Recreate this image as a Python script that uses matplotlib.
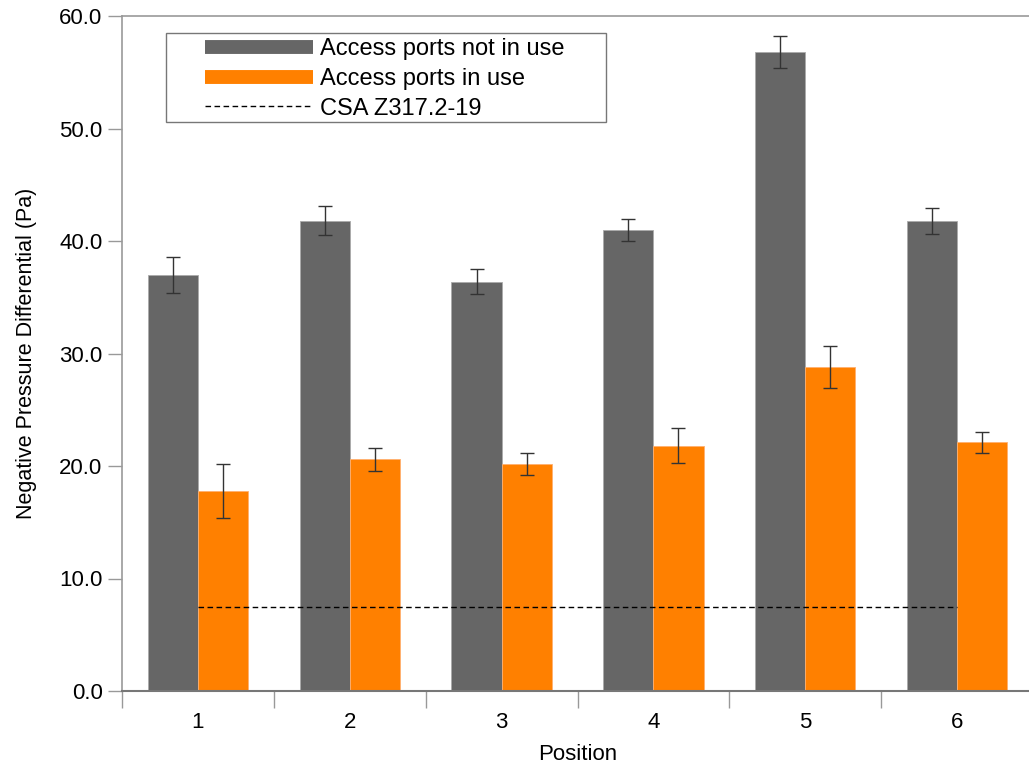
import numpy as np
import matplotlib.pyplot as plt
from matplotlib.lines import Line2D
from matplotlib.patches import Rectangle
from matplotlib.legend_handler import HandlerLine2D

plt.rcParams['font.family'] = ['Liberation Sans', 'DejaVu Sans']

positions = [1, 2, 3, 4, 5, 6]
not_in_use = [37.0, 41.8, 36.4, 41.0, 56.8, 41.8]
not_in_use_err = [1.6, 1.3, 1.1, 1.0, 1.45, 1.15]
in_use = [17.8, 20.6, 20.2, 21.8, 28.8, 22.1]
in_use_err = [2.4, 1.0, 1.0, 1.55, 1.85, 0.95]
csa_limit = 7.5

gray = '#666666'
orange = '#ff8000'
spine = '#999999'


class OffsetHandler(HandlerLine2D):
    # legend line starts a bit to the right of the handle box
    def create_artists(self, legend, orig_handle, xdescent, ydescent, width, height, fontsize, trans):
        arts = super().create_artists(legend, orig_handle, xdescent, ydescent, width, height, fontsize, trans)
        for a in arts:
            xd = np.asarray(a.get_xdata(), dtype=float)
            a.set_xdata(xd[0] + 0.24 * width + (xd - xd[0]) * 0.76)
        return arts


fig = plt.figure(figsize=(10.29, 7.69), dpi=100)
ax = fig.add_axes([122 / 1029, 78 / 769, 911 / 1029, 675 / 769])

x = np.array(positions)
w = 0.33
ekw = dict(ecolor='#333333', elinewidth=1, capsize=4.8, capthick=1)
ax.bar(x - w / 2, not_in_use, w, color=gray, edgecolor='#aaaaaa', linewidth=0.6,
       yerr=not_in_use_err, error_kw=ekw)
ax.bar(x + w / 2, in_use, w, color=orange, edgecolor='#ffb070', linewidth=0.6,
       yerr=in_use_err, error_kw=ekw)
ax.plot([positions[0], positions[-1]], [csa_limit, csa_limit], color='black',
        linestyle=(0, (4, 2.5)), linewidth=1)

ax.set_xlim(0.5, 6.5)
ax.set_ylim(0, 60)
ax.set_yticks(np.arange(0, 61, 10))
ax.set_yticklabels([f'{v:.1f}' for v in np.arange(0, 61, 10)], fontsize=16)
ax.set_xticks(positions)
ax.set_xticklabels([str(p) for p in positions], fontsize=16)
ax.tick_params(axis='x', which='major', length=0, pad=15)
ax.set_xticks(np.arange(0.5, 6.6, 1), minor=True)
ax.tick_params(axis='x', which='minor', length=12, width=1, color=spine, direction='out')
ax.tick_params(axis='y', length=10, width=1, color=spine, direction='out', pad=4)

for s in ax.spines.values():
    s.set_color(spine)
    s.set_linewidth(1.2)
ax.spines['bottom'].set_color('#777777')
ax.spines['bottom'].set_linewidth(1.5)

ax.set_xlabel('Position', fontsize=16, labelpad=8)
ax.set_ylabel('Negative Pressure Differential (Pa)', fontsize=15.5, labelpad=16)

handles = [
    Line2D([0], [0], color=gray, linewidth=10, solid_capstyle='butt'),
    Line2D([0], [0], color=orange, linewidth=10, solid_capstyle='butt'),
    Line2D([0], [0], color='black', linestyle=(0, (4, 2.5)), linewidth=1),
]
labels = ['Access ports not in use', 'Access ports in use', 'CSA Z317.2-19']
leg = ax.legend(handles, labels, loc='upper left',
                bbox_to_anchor=(171 / 1029, 1 - 38 / 769), bbox_transform=fig.transFigure,
                fontsize=17, frameon=False, handlelength=6.0, handleheight=0.7,
                borderpad=0, labelspacing=0.33, handletextpad=0.3, borderaxespad=0,
                handler_map={Line2D: OffsetHandler()})
fig.patches.append(Rectangle((166 / 1029, 1 - 122 / 769), 440 / 1029, 89 / 769,
                             transform=fig.transFigure, fill=False,
                             edgecolor='#777777', linewidth=1, zorder=5))

fig.savefig('out.png', dpi=100)
